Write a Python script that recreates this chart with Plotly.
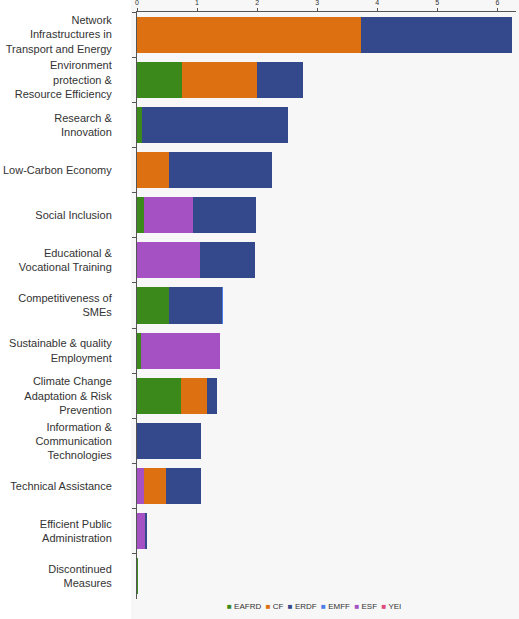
import plotly.graph_objects as go

# thematic objectives, top to bottom
categories = [
    'Network<br>Infrastructures in<br>Transport and Energy',
    'Environment<br>protection &<br>Resource Efficiency',
    'Research &<br>Innovation',
    'Low-Carbon Economy',
    'Social Inclusion',
    'Educational &<br>Vocational Training',
    'Competitiveness of<br>SMEs',
    'Sustainable & quality<br>Employment',
    'Climate Change<br>Adaptation & Risk<br>Prevention',
    'Information &<br>Communication<br>Technologies',
    'Technical Assistance',
    'Efficient Public<br>Administration',
    'Discontinued<br>Measures',
]

# amounts per fund, same order as categories
eafrd = [0.00, 0.75, 0.09, 0.00, 0.11, 0.00, 0.54, 0.07, 0.74, 0.00, 0.00, 0.00, 0.01]
cf = [3.73, 1.24, 0.00, 0.53, 0.00, 0.00, 0.00, 0.00, 0.42, 0.00, 0.38, 0.00, 0.00]
erdf = [2.51, 0.77, 2.42, 1.72, 1.04, 0.91, 0.88, 0.00, 0.18, 1.07, 0.58, 0.04, 0.00]
emff = [0.00, 0.00, 0.00, 0.00, 0.00, 0.00, 0.01, 0.00, 0.00, 0.00, 0.00, 0.00, 0.00]
esf = [0.00, 0.00, 0.00, 0.00, 0.83, 1.05, 0.00, 1.32, 0.00, 0.00, 0.11, 0.13, 0.00]
yei = [0.00, 0.00, 0.00, 0.00, 0.00, 0.00, 0.00, 0.00, 0.00, 0.00, 0.00, 0.00, 0.00]

colors = {
    'EAFRD': '#3b891b',
    'CF': '#dd7111',
    'ERDF': '#33498c',
    'EMFF': '#4a7ee8',
    'ESF': '#a550c3',
    'YEI': '#e04a7a',
}
# stacking order inside each bar (ESF sits before CF in the TA row)
stack = [('EAFRD', eafrd), ('ESF', esf), ('CF', cf), ('ERDF', erdf), ('EMFF', emff), ('YEI', yei)]
legend_order = ['EAFRD', 'CF', 'ERDF', 'EMFF', 'ESF', 'YEI']

fig = go.Figure()

for name, values in stack:
    fig.add_bar(
        y=categories,
        x=values,
        name=name,
        orientation='h',
        marker=dict(color=colors[name], line=dict(width=0)),
        showlegend=False,
    )

# grey panel behind plot and legend
fig.add_shape(
    type='rect', xref='paper', yref='paper',
    x0=-0.016, x1=1.05, y0=-0.06, y1=1.06,
    fillcolor='#f7f7f7', line=dict(width=0), layer='below',
)

# compact legend as one line of text
legend_text = '&nbsp;&nbsp;'.join(
    f"<span style='color:{colors[n]}'>■</span> {n}" for n in legend_order
)
fig.add_annotation(
    text=legend_text,
    xref='paper', yref='paper',
    x=0.467, y=-0.0136,
    xanchor='center', yanchor='middle',
    showarrow=False,
    font=dict(size=8, color='#333333'),
)

fig.update_layout(
    width=519,
    height=619,
    barmode='stack',
    bargap=0.2,
    paper_bgcolor='white',
    plot_bgcolor='#f7f7f7',
    margin=dict(l=137, r=3, t=12, b=20),
    font=dict(family='Liberation Sans, Arial, sans-serif', size=11, color='#333333'),
    showlegend=False,
)

fig.update_xaxes(
    side='top',
    range=[0, 6.31],
    dtick=1,
    automargin=False,
    showgrid=False,
    zeroline=False,
    showline=True,
    linecolor='#555555',
    linewidth=1,
    ticks='outside',
    ticklen=3,
    tickcolor='#555555',
    tickfont=dict(size=7, color='#333333'),
)

fig.update_yaxes(
    autorange='reversed',
    automargin=False,
    showgrid=False,
    showline=True,
    linecolor='#555555',
    linewidth=1,
    ticks='outside',
    tickson='boundaries',
    ticklen=4,
    tickcolor='#555555',
    ticklabelstandoff=22,
    tickfont=dict(size=11, color='#333333'),
)

# drop the default page margin so the figure sits at the window corner
fig.write_html(
    "out.html",
    config={'displayModeBar': False},
    post_script="document.body.style.margin='0';",
)
